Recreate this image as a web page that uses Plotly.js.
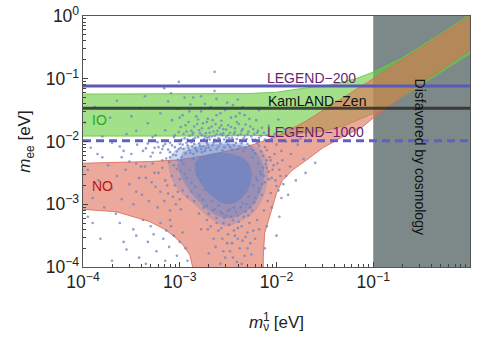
<!DOCTYPE html>
<html>
<head>
<meta charset="utf-8">
<script src="https://cdn.plot.ly/plotly-3.0.1.min.js"></script>
<style>html,body{margin:0;padding:0;background:#fff;}#chart{width:483px;height:339px;}</style>
</head>
<body>
<div id="chart"></div>
<script>
// ---- data (in eV) ----
const cosmoX = [0.1, 1, 1, 0.1];
const cosmoY = [1e-4, 1e-4, 1, 1];

// Inverted ordering band: upper edge (left->right) and lower edge (right->left)
const ioUpX  = [1e-4, 1e-3, 5e-3, 1e-2, 1.6e-2, 3.5e-2, 6.6e-2, 0.1, 0.2, 0.5, 1];
const ioUpY  = [0.057, 0.057, 0.058, 0.061, 0.068, 0.079, 0.1, 0.128, 0.215, 0.52, 1.05];
const ioLowX = [1, 0.5, 0.2, 0.1, 0.05, 0.03, 0.01, 1e-3, 1e-4];
const ioLowY = [0.25, 0.126, 0.052, 0.028, 0.0177, 0.0146, 0.0125, 0.0122, 0.0122];

// Normal ordering band
const noUpX  = [1e-4, 2e-4, 5e-4, 1e-3, 2e-3, 5e-3, 1e-2, 2e-2, 3e-2, 5e-2, 0.1, 0.2, 0.5, 1];
const noUpY  = [0.0045, 0.0046, 0.0048, 0.0051, 0.0061, 0.0083, 0.012, 0.021, 0.031, 0.051, 0.1, 0.2, 0.5, 1.0];
const noLowX = [1, 0.5, 0.2, 0.1, 0.077, 0.048, 0.03, 0.0206, 0.0146, 0.0115, 0.01, 0.0089, 0.0081, 0.00755, 0.0073, 0.00725,
                0.00136, 0.00136, 0.00127, 0.00108, 9.1e-4, 7.2e-4, 4.9e-4, 3.3e-4, 2.2e-4, 1e-4];
const noLowY = [0.29, 0.14, 0.053, 0.0237, 0.017, 0.0118, 0.0079, 0.0051, 0.0035, 0.0024, 0.0015, 8.1e-4, 5e-4, 3.5e-4, 1.44e-4, 1e-6,
                1e-6, 1e-4, 1.56e-4, 2.24e-4, 2.9e-4, 3.9e-4, 5.3e-4, 6.3e-4, 7.6e-4, 8.3e-4];

// Experimental sensitivities (eV)
const legend200 = 0.0766;
const kamland   = 0.0338;
const legend1000 = 0.0103;

// Model prediction cloud: density contours (log10 m1, log10 mee)
const haloLog = [[-3.05,-2.135],[-2.79,-2.024],[-2.38,-2.024],[-2.15,-2.135],[-2.09,-2.42],[-2.11,-2.77],[-2.21,-3.09],
                 [-2.38,-3.28],[-2.53,-3.35],[-2.69,-3.22],[-2.84,-3.01],[-3.0,-2.8],[-3.1,-2.53],[-3.12,-2.3]];
const midLog  = [[-2.968,-2.167],[-2.793,-2.072],[-2.566,-2.04],[-2.328,-2.072],[-2.194,-2.199],[-2.132,-2.422],[-2.142,-2.709],
                 [-2.204,-2.932],[-2.318,-3.124],[-2.462,-3.219],[-2.607,-3.187],[-2.741,-3.044],[-2.865,-2.853],[-2.968,-2.614],[-3.03,-2.375]];
const coreLog = [[-2.793,-2.247],[-2.638,-2.183],[-2.462,-2.199],[-2.318,-2.295],[-2.256,-2.486],[-2.277,-2.709],[-2.349,-2.884],
                 [-2.462,-2.996],[-2.566,-2.98],[-2.669,-2.869],[-2.762,-2.709],[-2.834,-2.518],[-2.844,-2.343]];
// scattered prediction points (log10 m1, log10 mee)
const cloudLog = [
[-3.72,-1.62],[-3.55,-1.88],[-3.41,-1.47],[-3.33,-1.71],[-3.28,-1.93],[-3.2,-1.55],[-3.15,-1.82],[-3.12,-1.36],[-3.08,-1.66],[-3.05,-1.9],
[-3.02,-1.48],[-2.99,-1.77],[-2.97,-1.58],[-2.95,-1.95],[-2.93,-1.84],[-2.91,-1.69],[-2.89,-1.41],[-2.87,-1.89],[-2.85,-1.76],[-2.83,-1.6],
[-2.81,-1.93],[-2.8,-1.82],[-2.78,-1.52],[-2.76,-1.71],[-2.75,-1.96],[-2.73,-1.87],[-2.71,-1.64],[-2.7,-1.79],[-2.68,-1.45],[-2.67,-1.92],
[-2.65,-1.84],[-2.63,-1.72],[-2.62,-1.58],[-2.6,-1.95],[-2.58,-1.88],[-2.57,-1.67],[-2.55,-1.8],[-2.53,-1.5],[-2.52,-1.93],[-2.5,-1.74],
[-2.48,-1.86],[-2.47,-1.62],[-2.45,-1.97],[-2.43,-1.79],[-2.41,-1.69],[-2.4,-1.9],[-2.38,-1.55],[-2.36,-1.83],[-2.34,-1.95],[-2.32,-1.73],
[-2.3,-1.88],[-2.28,-1.64],[-2.26,-1.92],[-2.24,-1.8],[-2.22,-1.97],[-2.2,-1.86],[-2.18,-1.94],[-2.15,-1.78],[-2.12,-1.97],[-2.1,-1.9],
[-2.05,-1.95],[-2.92,-1.97],[-2.86,-1.96],[-2.77,-1.9],[-2.69,-1.97],[-2.59,-1.78],[-2.54,-1.97],[-2.44,-1.88],[-2.37,-1.98],[-2.31,-1.96],
[-2.64,-1.97],[-2.72,-1.94],[-2.49,-1.95],[-2.56,-1.9],[-2.82,-1.72],[-2.66,-1.66],[-2.42,-1.6],[-2.35,-1.45],[-2.62,-1.32],[-2.78,-1.28],
[-2.51,-1.38],[-3.36,-1.28],[-2.95,-1.3],
[-2.64,-0.89],[-3.01,-1.05],[-3.16,-1.15],[-3.09,-1.23],[-2.64,-1.195],
[-3.62,-2.08],[-3.5,-2.2],[-3.44,-2.05],[-3.38,-2.15],[-3.33,-2.03],[-3.3,-2.24],[-3.26,-2.1],[-3.23,-2.01],[-3.2,-2.18],[-3.17,-2.07],
[-3.14,-2.27],[-3.12,-2.13],[-3.1,-2.02],[-3.07,-2.21],[-3.05,-2.09],[-3.03,-2.16],[-3.0,-2.04],[-2.98,-2.25],[-2.96,-2.12],[-2.94,-2.19],
[-2.92,-2.06],[-2.9,-2.14],[-2.88,-2.01],[-2.86,-2.2],[-2.84,-2.1],[-2.82,-2.16],[-2.8,-2.03],[-2.78,-2.12],[-2.76,-2.08],[-2.74,-2.15],
[-2.72,-2.02],[-2.7,-2.1],[-2.66,-2.06],[-2.62,-2.12],[-2.58,-2.03],[-2.54,-2.09],[-2.5,-2.05],[-2.46,-2.13],[-2.42,-2.02],[-2.38,-2.08],
[-2.34,-2.15],[-2.3,-2.04],[-2.26,-2.11],[-2.22,-2.19],[-2.18,-2.07],[-2.14,-2.23],[-2.1,-2.14],[-2.06,-2.3],[-3.08,-2.06],[-2.99,-2.1],
[-2.93,-2.02],[-2.87,-2.08],[-3.18,-2.12],[-3.28,-2.18],
[-3.28,-2.35],[-3.22,-2.5],[-3.18,-2.42],[-3.15,-2.62],[-3.11,-2.33],[-3.08,-2.55],[-3.05,-2.7],[-3.03,-2.44],[-3.0,-2.6],[-2.98,-2.31],
[-2.97,-2.78],[-2.95,-2.52],[-3.12,-2.83],[-3.25,-2.72],[-3.35,-2.58],[-3.4,-2.4],[-3.45,-2.8],[-3.52,-2.32],[-2.92,-2.88],[-2.88,-2.8],
[-2.85,-2.95],[-3.0,-2.92],
[-2.19,-2.35],[-2.16,-2.52],[-2.14,-2.42],[-2.12,-2.65],[-2.1,-2.3],[-2.08,-2.48],[-2.05,-2.58],[-2.03,-2.38],[-2.0,-2.71],[-1.97,-2.45],
[-1.94,-2.3],[-1.9,-2.55],[-2.18,-2.75],[-2.15,-2.85],[-2.22,-2.9],[-2.06,-2.82],[-1.86,-2.4],[-1.8,-2.62],[-1.72,-2.28],[-1.95,-2.9],
[-2.25,-2.25],[-2.2,-2.62],
[-2.75,-3.05],[-2.7,-3.15],[-2.66,-3.1],[-2.62,-3.22],[-2.58,-3.12],[-2.55,-3.3],[-2.52,-3.18],[-2.48,-3.08],[-2.45,-3.25],[-2.42,-3.12],
[-2.4,-3.38],[-2.37,-3.05],[-2.34,-3.2],[-2.31,-3.0],[-2.28,-3.3],[-2.25,-3.1],[-2.6,-3.42],[-2.56,-3.55],[-2.5,-3.48],[-2.46,-3.62],
[-2.43,-3.5],[-2.38,-3.7],[-2.35,-3.58],[-2.3,-3.45],[-2.26,-3.8],[-2.53,-3.85],[-2.63,-3.68],[-2.68,-3.35],[-2.72,-3.25],[-2.78,-3.4],
[-2.8,-3.15],[-2.41,-3.92],[-2.58,-3.95],[-2.22,-3.55],[-2.2,-3.25],[-2.18,-3.4],[-2.33,-3.82],[-2.48,-3.75],[-2.65,-3.55],[-2.7,-3.78],
[-3.82,-3.55],[-3.7,-3.9],[-3.62,-3.3],[-3.55,-3.72],[-3.48,-3.4],[-3.42,-3.85],[-3.38,-3.25],[-3.33,-3.6],[-3.3,-3.35],[-3.27,-3.48],
[-3.24,-3.75],[-3.2,-3.3],[-3.17,-3.55],[-3.14,-3.42],[-3.11,-3.68],[-3.09,-3.35],[-3.06,-3.5],[-3.03,-3.82],[-3.0,-3.6],[-2.97,-3.45],
[-2.94,-3.7],[-2.92,-3.9],[-3.15,-3.9],[-3.35,-3.95],[-3.58,-3.6],[-3.9,-3.3],[-3.45,-3.5],[-3.1,-3.25],
[-3.95,-2.45],[-3.9,-2.9],[-3.84,-2.62],[-3.78,-3.05],[-3.74,-2.38],[-3.7,-2.75],[-3.65,-2.55],[-3.6,-2.92],[-3.56,-2.45],[-3.52,-2.68],
[-3.48,-3.0],[-3.45,-2.35],[-3.42,-2.58],[-3.39,-2.85],[-3.36,-2.4],[-3.32,-2.95],[-3.29,-2.65],[-3.26,-2.5],[-3.23,-3.05],[-3.2,-2.8],
[-3.18,-2.3],[-3.16,-2.95],[-3.13,-2.7],[-3.1,-3.1],[-3.07,-2.88],[-3.04,-3.0],[-3.02,-2.8],[-2.99,-3.08],[-3.6,-2.25],[-3.85,-2.2],
[-3.95,-3.2],[-3.66,-3.15],
[-3.92,-2.1],[-3.8,-2.25],[-3.7,-2.02],[-3.58,-2.15],
[-3.98,-1.7],[-3.88,-1.45],[-3.8,-1.92],[-3.65,-1.35],[-3.5,-1.6],[-3.45,-1.83],[-3.25,-1.9],
[-1.6,-2.34],[-1.88,-2.85],[-1.97,-3.2],[-2.05,-3.05],[-2.1,-3.35],[-2.0,-3.5],[-2.12,-3.7],[-1.75,-1.95],[-1.82,-1.9],[-2.02,-1.88],
[-1.92,-1.8],[-2.08,-1.75],[-1.98,-1.65],[-2.0,-2.05],[-1.95,-2.15],[-1.9,-2.0],[-1.85,-2.2],[-1.78,-2.05],[-1.7,-2.5],
[-3.06,-1.93],[-3.01,-1.85],[-2.98,-1.97],[-2.94,-1.74],[-2.9,-1.91],[-2.88,-1.83],[-2.84,-1.94],[-2.81,-1.65],[-2.79,-1.87],[-2.77,-1.79],
[-2.74,-1.92],[-2.72,-1.69],[-2.69,-1.86],[-2.67,-1.76],[-2.64,-1.91],[-2.61,-1.83],[-2.59,-1.96],[-2.57,-1.74],[-2.55,-1.87],[-2.52,-1.81],
[-2.5,-1.9],[-2.47,-1.77],[-2.46,-1.94],[-2.43,-1.85],[-2.41,-1.96],[-2.39,-1.72],[-2.37,-1.88],[-2.35,-1.8],[-2.33,-1.91],[-2.29,-1.84],
[-2.27,-1.76],[-2.25,-1.97],[-2.23,-1.88],[-2.19,-1.83],[-2.16,-1.91],[-2.13,-1.86],[-2.62,-1.88],[-2.7,-1.93],[-2.86,-1.86],[-2.96,-1.88],
[-3.15,-2.04],[-3.1,-2.17],[-3.04,-2.22],[-3.01,-2.12],[-2.97,-2.05],[-2.91,-2.1],[-2.89,-2.18],[-2.85,-2.04],[-2.83,-2.13],[-2.79,-2.07],
[-2.77,-2.17],[-2.73,-2.11],[-2.71,-2.05],[-2.68,-2.14],[-2.65,-2.02],[-2.6,-2.08],[-2.56,-2.14],[-2.52,-2.01],[-2.48,-2.09],[-2.44,-2.06],
[-2.4,-2.12],[-2.36,-2.03],[-2.32,-2.1],[-2.28,-2.07],[-2.24,-2.14],[-2.2,-2.03],[-2.16,-2.16],[-2.12,-2.09],[-3.22,-2.09],[-3.35,-2.11],
[-3.1,-2.25],[-3.06,-2.38],[-3.02,-2.29],[-2.99,-2.47],[-2.96,-2.36],[-2.93,-2.58],[-2.9,-2.45],[-2.88,-2.66],[-2.86,-2.28],[-2.84,-2.72],
[-2.82,-2.52],[-2.8,-2.86],[-2.78,-2.62],[-2.76,-2.93],[-2.74,-2.77],[-2.72,-3.02],[-2.67,-2.95],[-2.64,-3.08],[-2.6,-3.02],[-2.56,-3.15],
[-2.1,-2.42],[-2.13,-2.55],[-2.15,-2.68],[-2.17,-2.48],[-2.19,-2.8],[-2.21,-2.58],[-2.23,-2.97],[-2.24,-2.7],[-2.27,-3.05],[-2.29,-2.88],
[-2.32,-3.12],[-2.35,-2.98],[-2.4,-3.18],[-2.44,-3.05],[-2.47,-3.2],[-2.5,-3.1],[-2.08,-2.6],[-2.11,-2.36],
[-2.71,-3.4],[-2.62,-3.3],[-2.57,-3.38],[-2.54,-3.22],[-2.49,-3.33],[-2.44,-3.42],[-2.39,-3.28],[-2.36,-3.35],[-2.32,-3.52],[-2.29,-3.18],
[-2.24,-3.42],[-2.27,-3.62],[-2.51,-3.62],[-2.4,-3.55],[-2.55,-3.75],[-2.45,-3.85],[-2.36,-3.95],[-2.3,-3.7],
[-2.04,-2.45],[-2.01,-2.62],[-1.99,-2.35],[-1.96,-2.55],[-1.93,-2.68],[-2.07,-2.25],[-2.02,-2.2],[-1.98,-2.78],[-2.09,-2.95],[-2.13,-3.1],
[-2.9,-1.52],[-2.74,-1.4],[-2.58,-1.55],[-2.45,-1.42],[-2.33,-1.58],[-2.21,-1.66],[-2.18,-1.5],[-3.0,-1.62],[-2.86,-1.3],[-2.4,-1.33]
];

// ---- build traces ----
const p10 = v => Math.pow(10, v);
const cloudColor = a => 'rgba(105,130,195,' + a + ')';
const traces = [];
traces.push({x: cosmoX, y: cosmoY, type: 'scatter', mode: 'lines', fill: 'toself',
  fillcolor: 'rgb(125,137,136)', line: {width: 0}, hoverinfo: 'skip'});
traces.push({x: ioUpX.concat(ioLowX), y: ioUpY.concat(ioLowY), type: 'scatter', mode: 'lines', fill: 'toself',
  fillcolor: 'rgba(100,205,60,0.6)', line: {color: 'rgba(110,200,70,0.9)', width: 1}, hoverinfo: 'skip'});
traces.push({x: noUpX.concat(noLowX), y: noUpY.concat(noLowY), type: 'scatter', mode: 'lines', fill: 'toself',
  fillcolor: 'rgba(225,110,90,0.6)', line: {color: 'rgba(220,105,85,0.85)', width: 1}, hoverinfo: 'skip'});
[[haloLog, 0.3], [midLog, 0.45], [coreLog, 0.7]].forEach(([poly, a]) => {
  traces.push({x: poly.map(p => p10(p[0])), y: poly.map(p => p10(p[1])), type: 'scatter', mode: 'lines', fill: 'toself',
    fillcolor: cloudColor(a), line: {width: 0, shape: 'spline', smoothing: 1.0}, hoverinfo: 'skip'});
});
traces.push({x: cloudLog.map(p => p10(p[0])), y: cloudLog.map(p => p10(p[1])), type: 'scatter', mode: 'markers',
  marker: {size: 2.6, color: cloudColor(0.75)}, hoverinfo: 'skip'});
traces.push({x: [1e-4, 1], y: [legend200, legend200], type: 'scatter', mode: 'lines',
  line: {color: '#5a5ab6', width: 3}, hoverinfo: 'skip'});
traces.push({x: [1e-4, 1], y: [kamland, kamland], type: 'scatter', mode: 'lines',
  line: {color: 'rgba(45,45,45,0.85)', width: 3}, hoverinfo: 'skip'});
traces.push({x: [1e-4, 1], y: [legend1000, legend1000], type: 'scatter', mode: 'lines',
  line: {color: '#6060c0', width: 3, dash: '8px,5px'}, hoverinfo: 'skip'});

const font = 'Liberation Sans, Arial, sans-serif';
const axisCommon = {
  type: 'log', dtick: 1, tick0: 0, exponentformat: 'power', labelalias: {'1': '10<sup>0</sup>'},
  showline: true, mirror: true, linecolor: '#555', linewidth: 1,
  ticks: 'inside', ticklen: 5, tickcolor: '#444', tickwidth: 1,
  minor: {ticks: 'inside', ticklen: 3, dtick: 'D1', tickcolor: '#444', tickwidth: 1, showgrid: false},
  showgrid: false, zeroline: false,
  tickfont: {family: font, size: 14, color: '#222'}
};

const layout = {
  width: 483, height: 339,
  margin: {l: 83, r: 13, t: 16, b: 72},
  paper_bgcolor: '#fff', plot_bgcolor: '#fff',
  showlegend: false,
  xaxis: Object.assign({}, axisCommon, {range: [-4, 0],
    title: {text: '<i>m</i><sub>ν</sub> [eV]', font: {family: font, size: 17, color: '#222'}, standoff: 24}}),
  yaxis: Object.assign({}, axisCommon, {range: [-4, 0],
    title: {text: '<i>m</i><sub>ee</sub> [eV]', font: {family: font, size: 17, color: '#222'}, standoff: 10}}),
  annotations: [
    {x: -1.637, y: -0.988, xref: 'x', yref: 'y', text: 'LEGEND−200', showarrow: false,
     font: {family: font, size: 14, color: '#6a1f70'}},
    {x: -1.585, y: -1.355, xref: 'x', yref: 'y', text: 'KamLAND−Zen', showarrow: false,
     font: {family: font, size: 14, color: '#111'}},
    {x: -1.595, y: -1.849, xref: 'x', yref: 'y', text: 'LEGEND−1000', showarrow: false,
     font: {family: font, size: 14, color: '#6a1f70'}},
    {x: -3.825, y: -1.657, xref: 'x', yref: 'y', text: 'IO', showarrow: false,
     font: {family: font, size: 14, color: '#2aa82a'}},
    {x: -3.794, y: -2.709, xref: 'x', yref: 'y', text: 'NO', showarrow: false,
     font: {family: font, size: 14, color: '#b81414'}},
    {x: -0.512, y: -2.247, xref: 'x', yref: 'y', text: 'Disfavored by cosmology', showarrow: false, textangle: 90,
     font: {family: font, size: 14, color: '#111'}},
    {x: 0.474, y: -0.2, xref: 'paper', yref: 'paper', yanchor: 'middle', xanchor: 'center', text: '1', showarrow: false,
     font: {family: font, size: 12, color: '#222'}}
  ]
};

Plotly.newPlot('chart', traces, layout, {staticPlot: true, displayModeBar: false});
</script>
</body>
</html>
